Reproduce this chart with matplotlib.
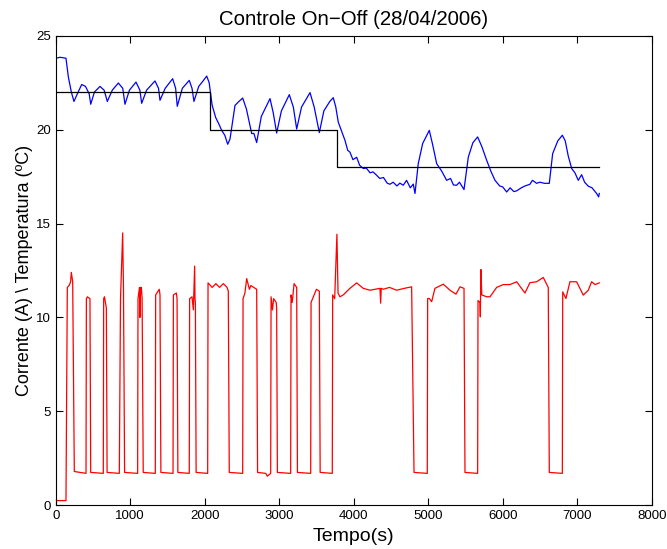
import numpy as np
import matplotlib.pyplot as plt

plt.rcParams['font.family'] = ['Liberation Sans', 'DejaVu Sans']

# referencia (setpoint) em degraus
ref_t = [0, 2075, 2075, 3780, 3780, 7297]
ref_v = [22, 22, 20, 20, 18, 18]

# temperatura medida
temp_t = [0, 60, 138, 170, 210, 245, 290, 349, 400, 450, 470, 520, 595, 650, 693,
          760, 841, 900, 930, 990, 1078, 1130, 1154, 1220, 1333, 1380, 1400, 1470, 1570,
          1610, 1632, 1700, 1793, 1830, 1856, 1920, 1980, 2027, 2060, 2100, 2148, 2190, 2228,
          2270, 2309, 2340, 2407, 2460, 2510, 2560, 2631, 2660, 2698, 2760, 2877, 2920, 2966,
          3030, 3136, 3190, 3235, 3300, 3414, 3470, 3539, 3600, 3680, 3726, 3760, 3793, 3840,
          3883, 3920, 3950, 3990, 4040, 4080, 4129, 4170, 4220, 4260, 4308, 4350, 4400, 4450,
          4487, 4530, 4580, 4620, 4666, 4710, 4760, 4800, 4823, 4867, 4926, 4970, 5015, 5060,
          5114, 5180, 5248, 5300, 5340, 5383, 5420, 5460, 5481, 5539, 5600, 5664, 5720, 5785,
          5840, 5897, 5960, 6000, 6054, 6100, 6150, 6188, 6250, 6300, 6366, 6400, 6456, 6500,
          6560, 6626, 6671, 6740, 6801, 6840, 6880, 6926, 6970, 7015, 7060, 7100, 7149, 7200,
          7261, 7288, 7297]
temp_v = [23.8, 23.85, 23.8, 22.8, 22.0, 21.5, 21.9, 22.4, 22.3, 21.9, 21.35, 22.0, 22.3,
          22.1, 21.5, 22.1, 22.48, 22.2, 21.35, 22.1, 22.53, 22.1, 21.4, 22.1, 22.59, 22.2,
          21.56, 22.2, 22.71, 22.2, 21.24, 22.2, 22.62, 22.2, 21.5, 22.3, 22.6, 22.85, 22.5,
          21.3, 20.64, 20.3, 19.96, 19.7, 19.22, 19.5, 21.29, 21.5, 21.68, 21.1, 19.79, 19.8,
          19.31, 20.7, 21.65, 20.9, 19.82, 21.0, 21.86, 21.2, 20.03, 21.2, 21.97, 21.2, 19.84,
          21.0, 21.5, 21.7, 21.2, 20.4, 19.9, 19.43, 18.9, 18.8, 18.4, 18.53, 18.1, 17.93, 17.95,
          17.7, 17.75, 17.57, 17.4, 17.45, 17.15, 17.09, 17.2, 17.0, 17.15, 17.04, 17.3, 16.9,
          17.1, 16.6, 18.19, 19.26, 19.6, 19.96, 19.2, 18.19, 17.8, 17.3, 17.4, 17.05, 17.04,
          17.2, 16.95, 16.81, 18.54, 19.3, 19.61, 19.1, 18.37, 17.8, 17.3, 17.0, 16.95, 16.68,
          16.9, 16.7, 16.74, 16.9, 17.0, 17.09, 17.3, 17.14, 17.2, 17.14, 17.14, 18.72, 19.4,
          19.7, 19.4, 18.6, 17.93, 17.7, 17.3, 17.6, 17.2, 16.99, 16.9, 16.6, 16.42, 16.6]

# corrente, pares (t, A) por ciclo liga/desliga
corr = [
    (0, 0.25), (138, 0.25), (156, 11.6), (180, 11.7), (200, 11.9), (210, 12.4), (228, 11.9), (250, 1.8),
    (407, 1.7), (412, 11.0), (425, 11.1), (460, 11.0), (470, 1.75),
    (639, 1.7), (644, 11.0), (655, 11.1), (680, 10.5), (690, 1.75),
    (854, 1.7), (870, 11.0), (899, 14.5), (910, 11.5), (925, 1.75),
    (1100, 1.7), (1105, 11.0), (1125, 11.6), (1130, 10.0), (1140, 11.6), (1150, 11.6), (1160, 11.0), (1175, 1.75),
    (1337, 1.7), (1342, 11.2), (1390, 11.5), (1400, 11.2), (1412, 1.75),
    (1575, 1.7), (1580, 11.2), (1620, 11.3), (1629, 11.0), (1640, 1.75),
    (1793, 1.7), (1798, 11.0), (1830, 11.1), (1848, 10.4), (1865, 12.73), (1870, 11.0), (1875, 10.8), (1885, 1.75),
    (2040, 1.7), (2045, 11.84), (2100, 11.6), (2150, 11.8), (2200, 11.6), (2250, 11.8), (2300, 11.6), (2317, 11.4), (2330, 1.75),
    (2510, 1.7), (2515, 11.0), (2540, 11.3), (2564, 12.07), (2600, 11.5), (2620, 11.7), (2660, 11.6), (2698, 11.5), (2710, 1.75),
    (2820, 1.7), (2840, 1.55), (2886, 1.7), (2891, 11.1), (2910, 10.4), (2925, 11.0), (2960, 10.8), (2966, 10.5), (2976, 1.75),
    (3154, 1.7), (3159, 11.2), (3175, 10.8), (3200, 11.8), (3235, 11.6), (3245, 1.75),
    (3423, 1.7), (3428, 10.8), (3470, 11.2), (3500, 11.5), (3539, 11.4), (3550, 1.75),
    (3713, 1.7), (3718, 11.2), (3745, 11.0), (3775, 14.43), (3790, 11.3), (3816, 11.1), (3860, 11.2),
    (3950, 11.55), (4040, 11.84), (4129, 11.55), (4219, 11.45), (4353, 11.55), (4362, 10.76), (4370, 11.55),
    (4397, 11.5), (4480, 11.6), (4577, 11.45), (4680, 11.55), (4778, 11.63), (4810, 1.75),
    (4988, 1.7), (4993, 11.01), (5015, 11.01), (5047, 10.84), (5091, 11.55), (5203, 11.77), (5293, 11.45),
    (5373, 11.24), (5427, 11.63), (5481, 11.55), (5494, 1.75),
    (5664, 1.7), (5669, 10.9), (5695, 10.8), (5700, 10.03), (5708, 12.55), (5720, 11.2), (5785, 11.1),
    (5830, 11.1), (5919, 11.6), (6008, 11.75), (6098, 11.75), (6188, 11.9), (6299, 11.3), (6366, 11.85),
    (6456, 11.9), (6545, 12.13), (6612, 11.6), (6626, 1.75),
    (6801, 1.7), (6806, 11.36), (6849, 11.01), (6903, 11.9), (6993, 11.9), (7082, 11.19), (7149, 11.45),
    (7194, 11.9), (7240, 11.75), (7297, 11.84),
]
corr_t = [p[0] for p in corr]
corr_v = [p[1] for p in corr]

fig = plt.figure(figsize=(6.67, 5.49), dpi=100)
ax = fig.add_axes([0.0835, 0.0796, 0.8935, 0.8554])

ax.plot(temp_t, temp_v, color='b', lw=0.9)
ax.plot(ref_t, ref_v, color='k', lw=0.9)
ax.plot(corr_t, corr_v, color='r', lw=0.9)

ax.set_xlim(0, 8000)
ax.set_ylim(0, 25)
ax.set_xticks(np.arange(0, 8001, 1000))
ax.set_yticks(np.arange(0, 26, 5))
ax.tick_params(direction='in', top=True, right=True, labelsize=9.5, length=5, width=0.8)
for s in ax.spines.values():
    s.set_linewidth(0.8)

ax.set_title('Controle On\u2212Off (28/04/2006)', fontsize=14.7, pad=8)
ax.set_xlabel('Tempo(s)', fontsize=14, labelpad=4)
ax.set_ylabel('Corrente (A) \\ Temperatura (ºC)', fontsize=13, labelpad=2)

fig.savefig('out.png', dpi=100)
